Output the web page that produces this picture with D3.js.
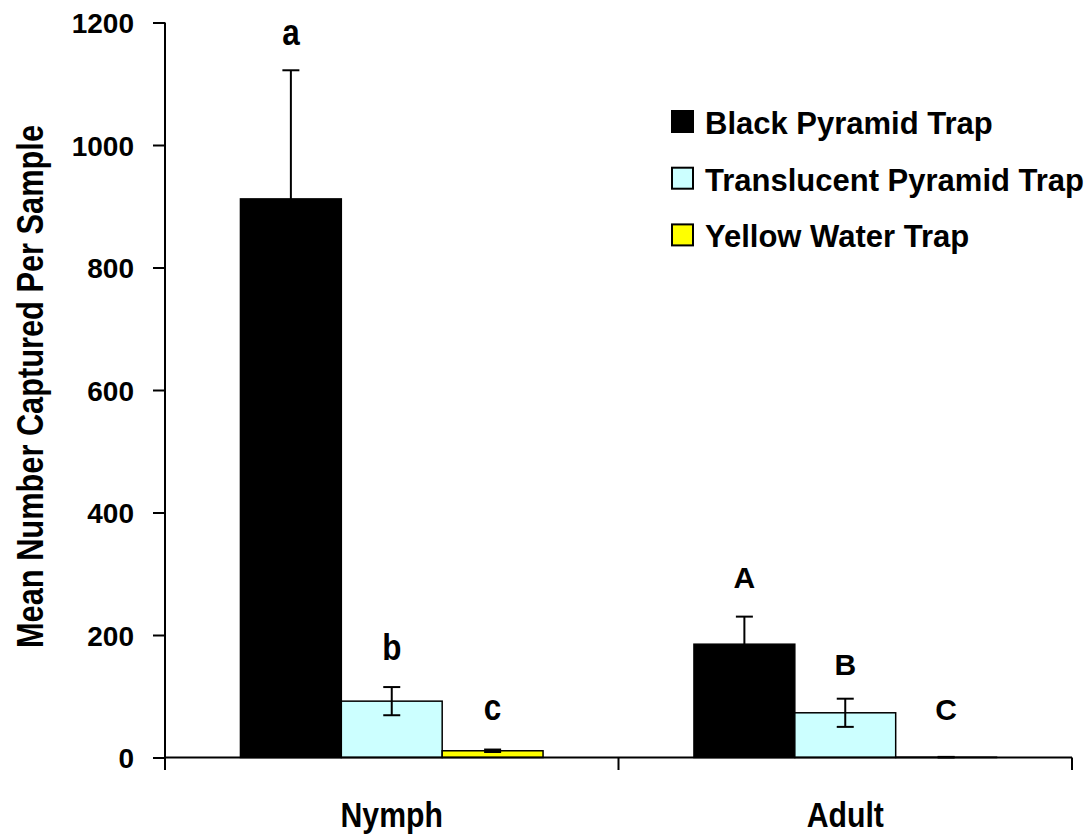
<!DOCTYPE html>
<html>
<head>
<meta charset="utf-8">
<script src="https://cdn.jsdelivr.net/npm/d3@7"></script>
<style>
  body { margin: 0; background: #fff; }
  svg text { font-family: "Liberation Sans", Arial, sans-serif; font-weight: bold; fill: #000; }
</style>
</head>
<body>
<div id="chart"></div>
<script>
// data
var categories = ["Nymph", "Adult"];
var series = ["Black Pyramid Trap", "Translucent Pyramid Trap", "Yellow Water Trap"];
var seriesColors = ["#000000", "#ccffff", "#ffff00"];
var blackMeans = [912, 185];
var blackErr = [210, 45];
var translucentMeans = [92, 73];
var translucentErr = [23, 23];
var yellowMeans = [11, 0.5];
var yellowErr = [2, 0.5];
var letters = [["a", "b", "c"], ["A", "B", "C"]];
var letterY = [[1163, 159, 61], [276, 134, 61]];
var yTicks = [0, 200, 400, 600, 800, 1000, 1200];

var means = [blackMeans, translucentMeans, yellowMeans];
var errs = [blackErr, translucentErr, yellowErr];

var W = 1086, H = 838;
var svg = d3.select("#chart").append("svg")
    .attr("width", W)
    .attr("height", H);

var x = d3.scaleBand().domain(categories).range([165, 1072]).padding(0);
var xs = d3.scaleBand().domain(series).range([0, x.bandwidth()]).paddingInner(0).paddingOuter(0.748);
var y = d3.scaleLinear().domain([0, 1200]).range([757.5, 22.5]);
var color = d3.scaleOrdinal().domain(series).range(seriesColors);

// build rows
var rows = [];
categories.forEach(function (c, ci) {
  series.forEach(function (s, si) {
    rows.push({cat: c, ser: s, mean: means[si][ci], err: errs[si][ci],
               letter: letters[ci][si], ly: letterY[ci][si]});
  });
});

// bars
svg.append("g").selectAll("rect")
  .data(rows)
  .enter().append("rect")
    .attr("x", function (d) { return x(d.cat) + xs(d.ser); })
    .attr("y", function (d) { return y(d.mean); })
    .attr("width", xs.bandwidth())
    .attr("height", function (d) { return y(0) - y(d.mean); })
    .attr("fill", function (d) { return color(d.ser); })
    .attr("stroke", "#000")
    .attr("stroke-width", 1.5);

// error bars
var eb = svg.append("g").attr("stroke", "#000").attr("stroke-width", 2);
rows.forEach(function (d) {
  var cx = x(d.cat) + xs(d.ser) + xs.bandwidth() / 2;
  var top = y(d.mean + d.err), bot = y(Math.max(0, d.mean - d.err));
  eb.append("line").attr("x1", cx).attr("x2", cx).attr("y1", top).attr("y2", bot);
  eb.append("line").attr("x1", cx - 8.5).attr("x2", cx + 8.5).attr("y1", top).attr("y2", top);
  eb.append("line").attr("x1", cx - 8.5).attr("x2", cx + 8.5).attr("y1", bot).attr("y2", bot);
});

// significance letters
svg.append("g").selectAll("text")
  .data(rows)
  .enter().append("text")
    .attr("text-anchor", "middle")
    .attr("transform", function (d) {
      var cx = x(d.cat) + xs(d.ser) + xs.bandwidth() / 2;
      var upper = d.letter === d.letter.toUpperCase();
      return "translate(" + cx + "," + y(d.ly) + ")" + (upper ? "" : " scale(0.85,1)");
    })
    .style("font-size", function (d) { return d.letter === d.letter.toUpperCase() ? "30px" : "37px"; })
    .text(function (d) { return d.letter; });

// y axis
var yAxis = svg.append("g")
    .attr("transform", "translate(165,0)")
    .call(d3.axisLeft(y).tickValues(yTicks).tickSize(12).tickPadding(19).tickFormat(d3.format("d")));
yAxis.select(".domain").remove();
yAxis.selectAll(".tick line").attr("stroke", "#000").attr("stroke-width", 2);
yAxis.selectAll(".tick text").style("font-size", "28px").attr("dy", "0.36em");
svg.append("line")
    .attr("x1", 165).attr("x2", 165)
    .attr("y1", y(1200)).attr("y2", 770)
    .attr("stroke", "#000").attr("stroke-width", 2);

// x axis
svg.append("line")
    .attr("x1", 165).attr("x2", 1072)
    .attr("y1", y(0)).attr("y2", y(0))
    .attr("stroke", "#000").attr("stroke-width", 2);
var bounds = categories.map(function (c) { return x(c); }).concat([x(categories[categories.length - 1]) + x.bandwidth()]);
svg.append("g").selectAll("line")
  .data(bounds.slice(1))
  .enter().append("line")
    .attr("x1", function (d) { return d; }).attr("x2", function (d) { return d; })
    .attr("y1", y(0)).attr("y2", 770)
    .attr("stroke", "#000").attr("stroke-width", 2);

svg.append("g").selectAll("text")
  .data(categories)
  .enter().append("text")
    .attr("text-anchor", "middle")
    .attr("transform", function (d) { return "translate(" + (x(d) + x.bandwidth() / 2) + ",827) scale(0.84,1)"; })
    .style("font-size", "36px")
    .text(function (d) { return d; });

// y title
svg.append("text")
    .attr("transform", "translate(43," + ((125 + 648) / 2) + ") rotate(-90)")
    .attr("text-anchor", "middle")
    .attr("textLength", 523)
    .attr("lengthAdjust", "spacingAndGlyphs")
    .style("font-size", "36px")
    .text("Mean Number Captured Per Sample");

// legend
var legend = svg.append("g").attr("transform", "translate(671,110)");
var item = legend.selectAll("g")
  .data(series)
  .enter().append("g")
    .attr("transform", function (d, i) { return "translate(0," + (i * 56.7) + ")"; });
item.append("rect")
    .attr("x", 1).attr("y", 1)
    .attr("width", 21).attr("height", 21)
    .attr("fill", function (d) { return color(d); })
    .attr("stroke", "#000").attr("stroke-width", 2);
item.append("text")
    .attr("transform", "translate(34,24)")
    .style("font-size", "31px")
    .text(function (d) { return d; });
</script>
</body>
</html>
